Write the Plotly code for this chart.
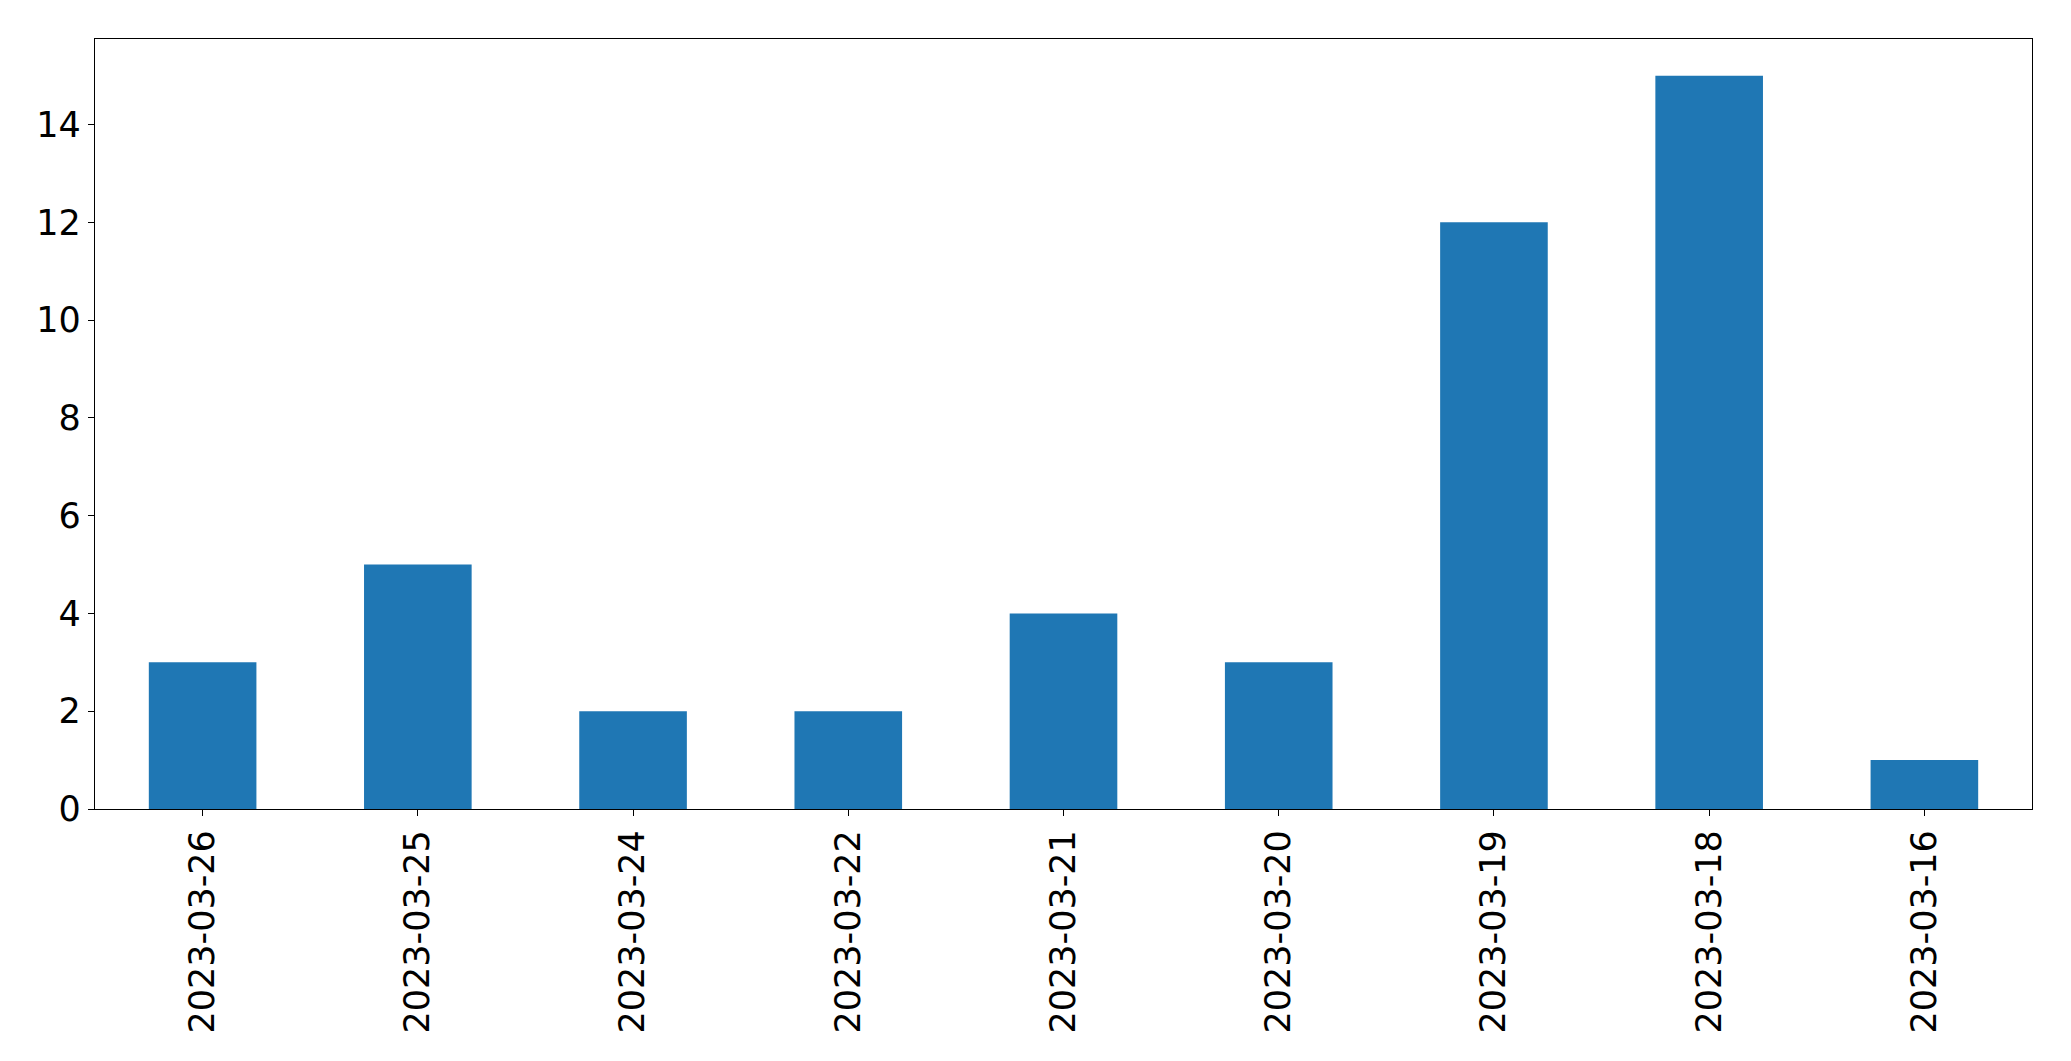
import plotly.graph_objects as go

dates = ["2023-03-26", "2023-03-25", "2023-03-24", "2023-03-22", "2023-03-21",
         "2023-03-20", "2023-03-19", "2023-03-18", "2023-03-16"]
counts = [3, 5, 2, 2, 4, 3, 12, 15, 1]
y_ticks = [0, 2, 4, 6, 8, 10, 12, 14]

fig = go.Figure(go.Bar(x=dates, y=counts, marker=dict(color="#1f77b4", line=dict(width=0)), width=0.5))

fig.update_layout(
    width=2071, height=1061,
    margin=dict(l=95, r=39, t=39, b=252),
    paper_bgcolor="white", plot_bgcolor="white",
    font=dict(family="DejaVu Sans", size=35, color="black"),
    showlegend=False,
)
fig.update_xaxes(type="category", range=[-0.5, 8.5], tickangle=-90,
                 showline=True, linecolor="black", linewidth=1.3, mirror=True,
                 ticks="outside", ticklen=6, tickwidth=1.3, tickcolor="black",
                 showgrid=False, zeroline=False, fixedrange=True)
fig.update_yaxes(range=[0, 15.75], tickvals=y_ticks,
                 showline=True, linecolor="black", linewidth=1.3, mirror=True,
                 ticks="outside", ticklen=6, tickwidth=1.3, tickcolor="black",
                 showgrid=False, zeroline=False, fixedrange=True)

fig.write_html("out.html", config={"displayModeBar": False},
               post_script="document.body.style.margin='0';document.body.style.padding='0';")
